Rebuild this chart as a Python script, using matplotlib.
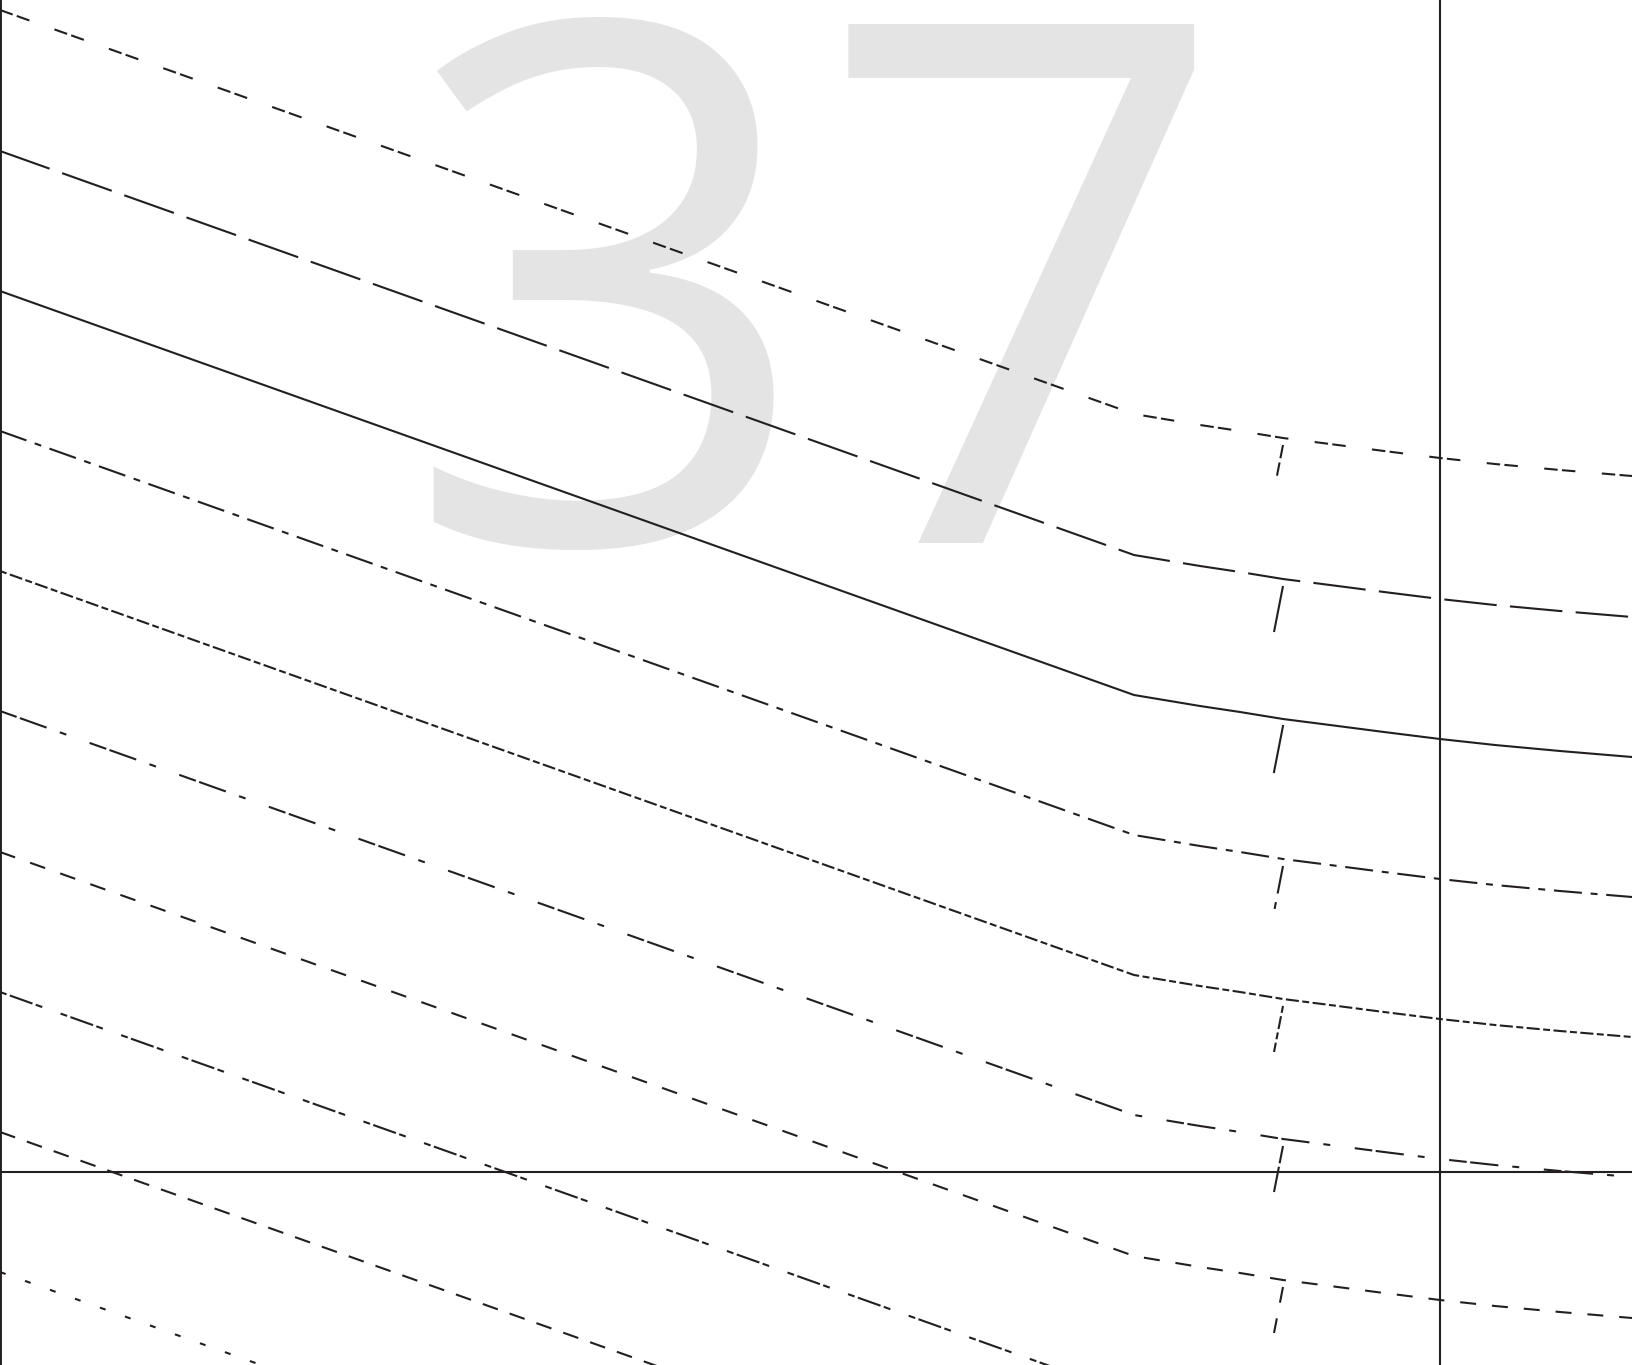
import numpy as np
import matplotlib.pyplot as plt

plt.rcParams['lines.scale_dashes'] = False

INK = '#231f20'

# x positions along the chart (same for every curve); the bend sits at 11.34
x_pts = [0.0, 11.34, 11.70, 12.00, 12.40, 12.83, 13.30, 13.84, 14.40, 14.95, 15.60, 16.32]

line_1 = [13.55, 9.51, 9.45, 9.40, 9.34, 9.27, 9.21, 9.14, 9.07, 9.01, 8.95, 8.89]
line_2 = [12.14, 8.10, 8.04, 7.99, 7.93, 7.86, 7.80, 7.73, 7.66, 7.60, 7.54, 7.48]
line_3 = [10.74, 6.70, 6.64, 6.59, 6.53, 6.46, 6.40, 6.33, 6.26, 6.20, 6.14, 6.08]
line_4 = [9.34, 5.30, 5.24, 5.19, 5.13, 5.06, 5.00, 4.93, 4.86, 4.80, 4.74, 4.68]
line_5 = [7.94, 3.90, 3.84, 3.79, 3.73, 3.66, 3.60, 3.53, 3.46, 3.40, 3.34, 3.28]
line_6 = [6.54, 2.50, 2.44, 2.39, 2.33, 2.26, 2.20, 2.13, 2.06, 2.00, 1.94, 1.88]
line_7 = [5.13, 1.09, 1.03, 0.98, 0.92, 0.85, 0.79, 0.72, 0.65, 0.59, 0.53, 0.47]
line_8 = [3.73, -0.31, -0.37, -0.42, -0.48, -0.55, -0.61, -0.68, -0.75, -0.81, -0.87, -0.93]
line_9 = [2.33, -1.71, -1.77, -1.82, -1.88, -1.95, -2.01, -2.08, -2.15, -2.21, -2.27, -2.33]
line_10 = [0.93, -3.11, -3.17, -3.22, -3.28, -3.35, -3.41, -3.48, -3.55, -3.61, -3.67, -3.73]

lines = [line_1, line_2, line_3, line_4, line_5,
         line_6, line_7, line_8, line_9, line_10]

# dash patterns in points
styles = [
    (0, (9.7, 3.1, 9.7, 19.1)),
    (0, (37.9, 9.6)),
    'solid',
    (0, (20.2, 6.3, 5.0, 6.3)),
    (0, (5.0, 2.5, 9.4, 2.5)),
    (0, (12.7, 2.5, 20.4, 10.1, 5.0, 17.8)),
    (0, (11.5, 11.5)),
    (0, (5.0, 2.5, 17.3, 2.5, 5.0, 14.0)),
    (0, (11.5, 9.0)),
    (0, (4.3, 14.8)),
]

# little slanted marks hanging under each curve
tick_idx = 5
tick_x = [12.83, 12.74]
tick_gap = 0.07
tick_len = 0.46

ref_x = 14.40
ref_y = 1.93

fig = plt.figure(figsize=(16.32, 13.65), dpi=100)
ax = fig.add_axes([0, 0, 1, 1])
ax.set_xlim(0, 16.32)
ax.set_ylim(0, 13.65)
ax.set_xticks([])
ax.set_yticks([])
for side in ['top', 'right', 'bottom']:
    ax.spines[side].set_visible(False)
ax.spines['left'].set_linewidth(2.8)
ax.spines['left'].set_color(INK)

ax.text(0.5, 0.602, '37', transform=ax.transAxes, ha='center', va='baseline',
        fontsize=523, family='Open Sans', color='#e4e4e4', zorder=0)

for y, ls in zip(lines, styles):
    ax.plot(x_pts, y, color=INK, lw=1.5, linestyle=ls, zorder=2)
    top = y[tick_idx] - tick_gap
    ax.plot(tick_x, [top, top - tick_len], color=INK, lw=1.5, linestyle=ls, zorder=2)

ax.axvline(ref_x, color=INK, lw=1.5, zorder=3)
ax.axhline(ref_y, color=INK, lw=1.5, zorder=3)

fig.savefig('out.png', dpi=100)
